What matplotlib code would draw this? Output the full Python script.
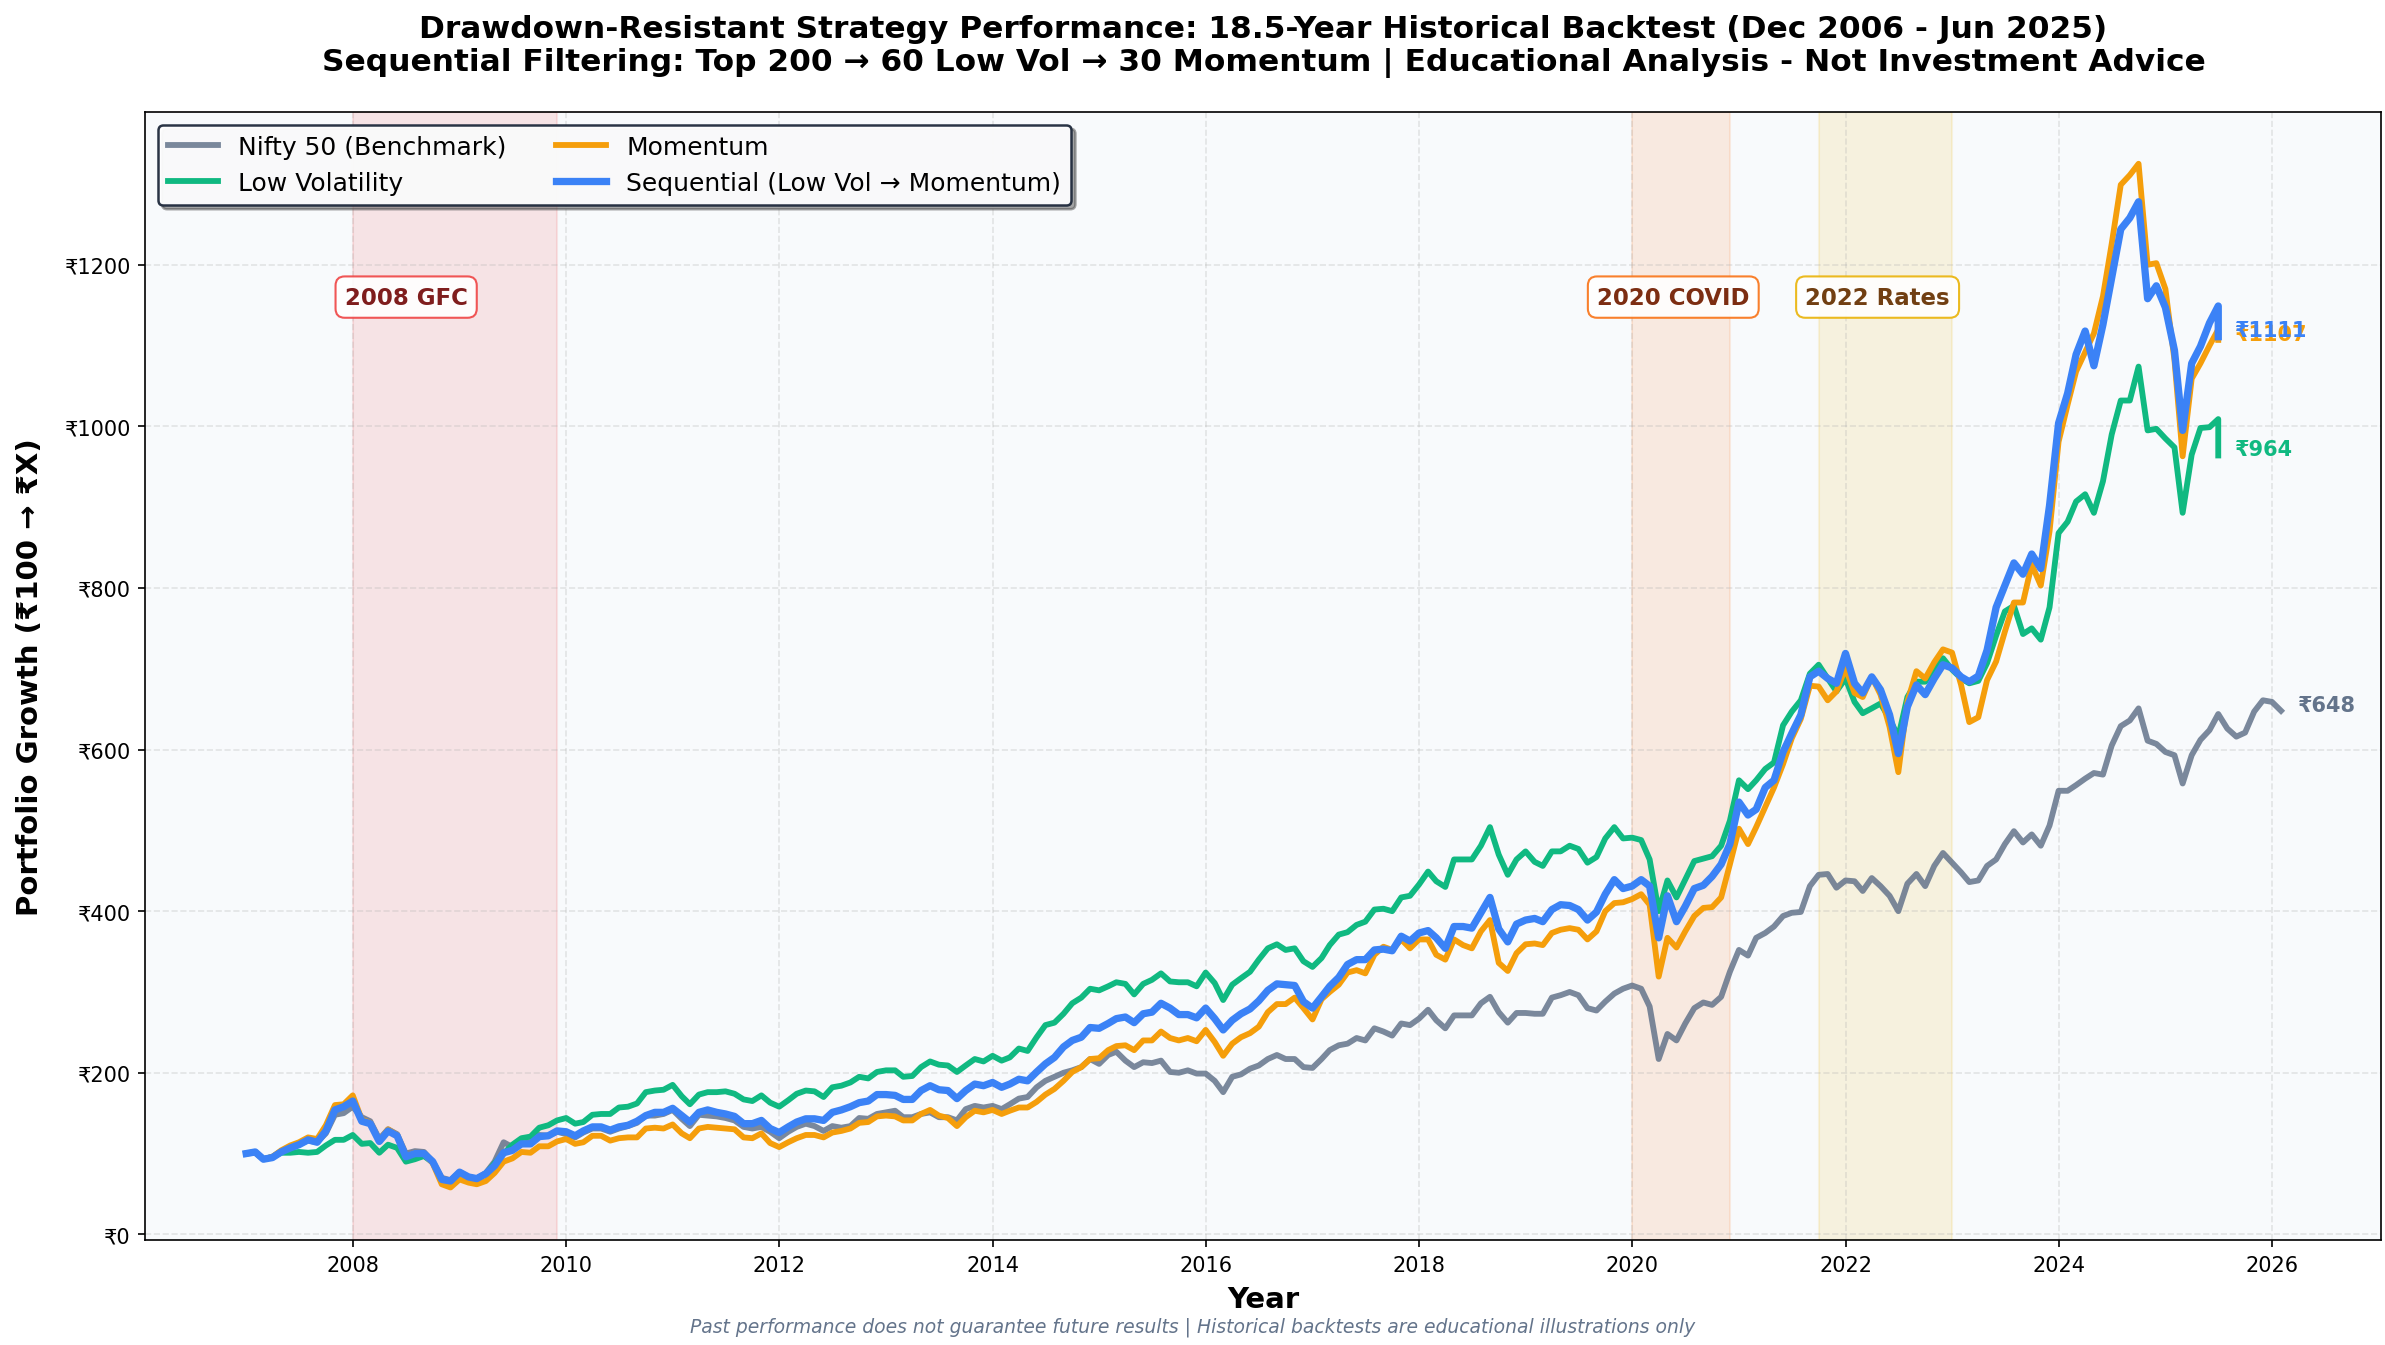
import pandas as pd
import matplotlib
matplotlib.use('Agg')
import matplotlib.pyplot as plt
import matplotlib.dates as mdates

# Valores mensais (fim de mês, a partir de Dez 2006)
nifty = [100, 101, 93, 96, 103, 108, 112, 116, 114, 125, 148, 150, 158, 145, 140, 118, 130, 124, 100, 103,
         102, 90, 70, 67, 77, 71, 69, 76, 90, 114, 108, 112, 114, 123, 122, 127, 124, 120, 126, 131,
         131, 127, 131, 134, 138, 147, 147, 149, 154, 143, 134, 148, 147, 146, 144, 141, 133, 131, 133, 127,
         119, 127, 133, 137, 134,
         128, 134, 132, 134, 144, 143, 149, 151, 153, 145, 145, 149, 151, 145, 145, 141, 155, 159, 157, 159,
         155, 161, 168, 170, 182, 190, 195, 200, 203, 207, 217, 211, 222, 226, 215, 207, 213, 212, 215,
         201, 200, 203, 199, 199, 190, 176, 195, 198, 205, 209, 217, 222, 217, 217, 207, 206, 217, 228, 234,
         236, 243, 240, 255, 251, 246, 261, 259, 267, 278, 265, 255, 271, 271, 271,
         286, 294, 275, 262, 274, 274, 273, 273, 293, 296, 300, 296, 280, 277, 288, 298, 304, 308, 304, 282,
         217, 248, 240, 261, 280, 287, 284, 294, 325, 352, 345, 367,
         373, 381, 394, 398, 399, 431, 445, 446, 429, 438, 437, 425, 441, 431, 419, 400, 434, 446, 431, 456,
         472, 460, 448, 436, 438, 456,
         464, 483, 499, 485, 495, 481, 506, 549, 549, 556, 564, 571, 569, 605, 629, 636, 651, 611, 607, 597,
         593, 558, 593, 612, 624, 644, 626, 616, 621, 647, 661, 659, 648]

low_vol = [100, 102, 93, 96, 101, 101, 102, 101, 102, 110, 117, 117, 123, 112, 113, 101, 111, 107, 90, 93,
           97, 89, 68, 66, 76, 71, 69, 75, 88, 100, 111, 119, 121, 132, 135, 141, 144, 137, 139, 148,
           149, 149, 157, 158, 162, 176, 178, 179, 185, 171, 161, 173, 176, 176, 177, 174, 167, 165, 172, 163,
           158, 166, 174, 178, 177,
           170, 182, 184, 188, 195, 193, 201, 203, 203, 195, 196, 207, 214, 210, 209, 201, 209, 217, 214, 221,
           215, 219, 230, 227, 244, 259, 262, 273, 286, 293, 304, 302, 307, 312, 310, 297, 310, 315, 323,
           313, 312, 312, 307, 324, 311, 290, 309, 317, 325, 340, 354, 359, 352, 354, 338, 331, 342, 358, 371,
           374, 383, 387, 402, 403, 400, 417, 419, 433, 449, 437, 430, 464, 464, 464,
           481, 504, 470, 445, 464, 474, 461, 456, 474, 474, 481, 477, 460, 467, 490, 504, 490, 491, 488, 464,
           400, 438, 417, 439, 462, 465, 468, 481, 512, 562,
           551, 562, 576, 584, 630, 647, 661, 694, 705, 688, 672, 688, 659, 645, 651, 657, 638, 616, 665, 684,
           684, 701, 713, 699, 688, 682, 685, 707,
           741, 771, 778, 743, 750, 736, 776, 868, 882, 907, 916, 893, 932, 990, 1032, 1032, 1074, 995, 997, 985,
           974, 893, 965, 998, 999, 1009, 964]

momentum = [100, 102, 93, 96, 104, 110, 114, 120, 118, 135, 160, 161, 172, 142, 138, 116, 130, 123, 96, 101,
            100, 88, 62, 58, 68, 64, 62, 66, 76, 90, 94, 102, 101, 109, 109, 115, 118, 112, 114, 122,
            122, 116, 119, 120, 120, 131, 132, 131, 136, 125, 119, 131, 133, 132, 131, 130, 120, 119, 125, 113,
            108, 114, 119, 123, 123,
            120, 126, 128, 131, 138, 139, 146, 147, 146, 141, 141, 149, 154, 147, 144, 134, 145, 153, 151, 154,
            149, 153, 157, 157, 164, 173, 180, 190, 201, 207, 217, 218, 228, 233, 234, 228, 240, 240, 251,
            243, 240, 243, 239, 253, 238, 221, 236, 244, 249, 257, 275, 285, 285, 293, 280, 266, 291, 300, 309,
            324, 327, 323, 346, 356, 352, 365, 354, 365, 365, 346, 340, 365, 358, 354,
            375, 389, 336, 326, 348, 359, 360, 358, 373, 377, 379, 377, 365, 375, 400, 410, 411, 415, 421, 408,
            319, 367, 355, 375, 394, 404, 405, 417, 458, 502,
            483, 504, 529, 553, 582, 614, 638, 679, 678, 661, 672, 701, 670, 665, 690, 668, 628, 572, 659, 697,
            688, 708, 724, 720, 680, 634, 640, 686,
            709, 746, 782, 782, 829, 803, 870, 981, 1027, 1068, 1092, 1115, 1161, 1226, 1299, 1311, 1325, 1200,
            1202, 1170, 1082, 963, 1059, 1078, 1100, 1120, 1107]

sequential = [100, 102, 93, 95, 102, 107, 111, 117, 114, 128, 154, 158, 165, 140, 137, 115, 128, 122, 96, 100,
              100, 90, 68, 66, 77, 71, 69, 75, 85, 101, 104, 112, 112, 121, 122, 128, 127, 122, 128, 133,
              133, 129, 133, 135, 140, 147, 151, 151, 156, 147, 139, 151, 154, 151, 149, 146, 137, 137, 141, 131,
              126, 133, 139, 143, 143,
              141, 151, 154, 158, 163, 165, 173, 173, 172, 167, 167, 178, 184, 179, 178, 168, 178, 186, 184, 188,
              182, 186, 192, 190, 201, 211, 219, 232, 240, 244, 256, 255, 261, 267, 269, 262, 273, 275, 286,
              280, 272, 272, 268, 280, 267, 253, 265, 273, 279, 289, 302, 310, 309, 308, 288, 280, 294, 307, 318,
              334, 340, 340, 352, 353, 351, 369, 363, 373, 376, 367, 354, 381, 381, 379,
              398, 417, 378, 362, 384, 389, 391, 387, 402, 408, 407, 402, 389, 399, 421, 439, 428, 431, 439, 431,
              367, 419, 387, 406, 428, 432, 443, 458, 483, 535,
              519, 526, 553, 562, 597, 620, 643, 690, 697, 688, 682, 719, 682, 670, 690, 674, 643, 595, 653, 680,
              668, 688, 705, 701, 690, 684, 691, 723,
              776, 803, 831, 817, 842, 824, 902, 1004, 1041, 1089, 1118, 1075, 1126, 1184, 1244, 1258, 1278, 1158,
              1174, 1147, 1094, 995, 1078, 1099, 1128, 1149, 1111]

# Períodos de crise
crises = [('2008-01-01', '2009-12-01', '2008-07-01', '2008 GFC', '#ef4444', '#7f1d1d'),
          ('2020-01-01', '2020-12-01', '2020-05-20', '2020 COVID', '#f97316', '#7c2d12'),
          ('2021-10-01', '2023-01-01', '2022-04-20', '2022 Rates', '#eab308', '#713f12')]

# Datas: fim de mês; a estratégia repete a última data (ajuste final)
datas_nifty = pd.date_range('2006-12-31', periods=len(nifty), freq='ME')
datas_estr = list(pd.date_range('2006-12-31', periods=len(sequential) - 1, freq='ME'))
datas_estr.append(datas_estr[-1])

fig, ax = plt.subplots(figsize=(15.9, 8.9733), dpi=150)
fig.subplots_adjust(left=0.061, right=0.9985, top=0.916, bottom=0.078)
ax.set_facecolor('#f8fafc')

for inicio, fim, meio, nome, cor, cor_txt in crises:
    ax.axvspan(pd.Timestamp(inicio), pd.Timestamp(fim), color=cor, alpha=0.12, zorder=0)
    ax.text(pd.Timestamp(meio), 1160, nome, ha='center', va='center', fontsize=11,
            fontweight='bold', color=cor_txt, zorder=5,
            bbox=dict(boxstyle='round,pad=0.4', facecolor='white', edgecolor=cor, alpha=0.9))

series = [(datas_nifty, nifty, 'Nifty 50 (Benchmark)', '#64748b', 2.8, 0.85),
          (datas_estr, low_vol, 'Low Volatility', '#10b981', 2.8, 1.0),
          (datas_estr, momentum, 'Momentum', '#f59e0b', 2.8, 1.0),
          (datas_estr, sequential, 'Sequential (Low Vol → Momentum)', '#3b82f6', 3.5, 1.0)]

for x, y, nome, cor, lw, a in series:
    ax.plot(x, y, label=nome, color=cor, linewidth=lw, alpha=a, zorder=3)
    ax.annotate(f'₹{y[-1]:.0f}', xy=(x[-1], y[-1]), xytext=(8, 3), textcoords='offset points',
                va='center', ha='left', fontsize=10, fontweight='bold', color=cor)

ax.set_xlim(pd.Timestamp('2006-01-20'), pd.Timestamp('2027-01-10'))
ax.set_ylim(-7, 1389)
ax.set_yticks(range(0, 1201, 200))
ax.yaxis.set_major_formatter(plt.FuncFormatter(lambda v, p: f'₹{v:.0f}'))
ax.xaxis.set_major_locator(mdates.YearLocator(2))
ax.xaxis.set_major_formatter(mdates.DateFormatter('%Y'))
ax.grid(True, linestyle='--', alpha=0.3)

ax.set_title('Drawdown-Resistant Strategy Performance: 18.5-Year Historical Backtest (Dec 2006 - Jun 2025)\n'
             'Sequential Filtering: Top 200 → 60 Low Vol → 30 Momentum | Educational Analysis - Not Investment Advice',
             fontsize=15, fontweight='bold', pad=20)
ax.set_xlabel('Year', fontsize=14, fontweight='bold', labelpad=5)
ax.set_ylabel('Portfolio Growth (₹100 → ₹X)', fontsize=14, fontweight='bold', labelpad=10)

leg = ax.legend(loc='upper left', ncol=2, fontsize=12, frameon=True, fancybox=True, shadow=True,
                framealpha=0.95)
leg.get_frame().set_edgecolor('#1e293b')
leg.get_frame().set_linewidth(1.2)

fig.text(0.5, 0.01, 'Past performance does not guarantee future results | '
         'Historical backtests are educational illustrations only',
         ha='center', fontsize=9, style='italic', color='#64748b')

plt.savefig('out.png', dpi=150)
